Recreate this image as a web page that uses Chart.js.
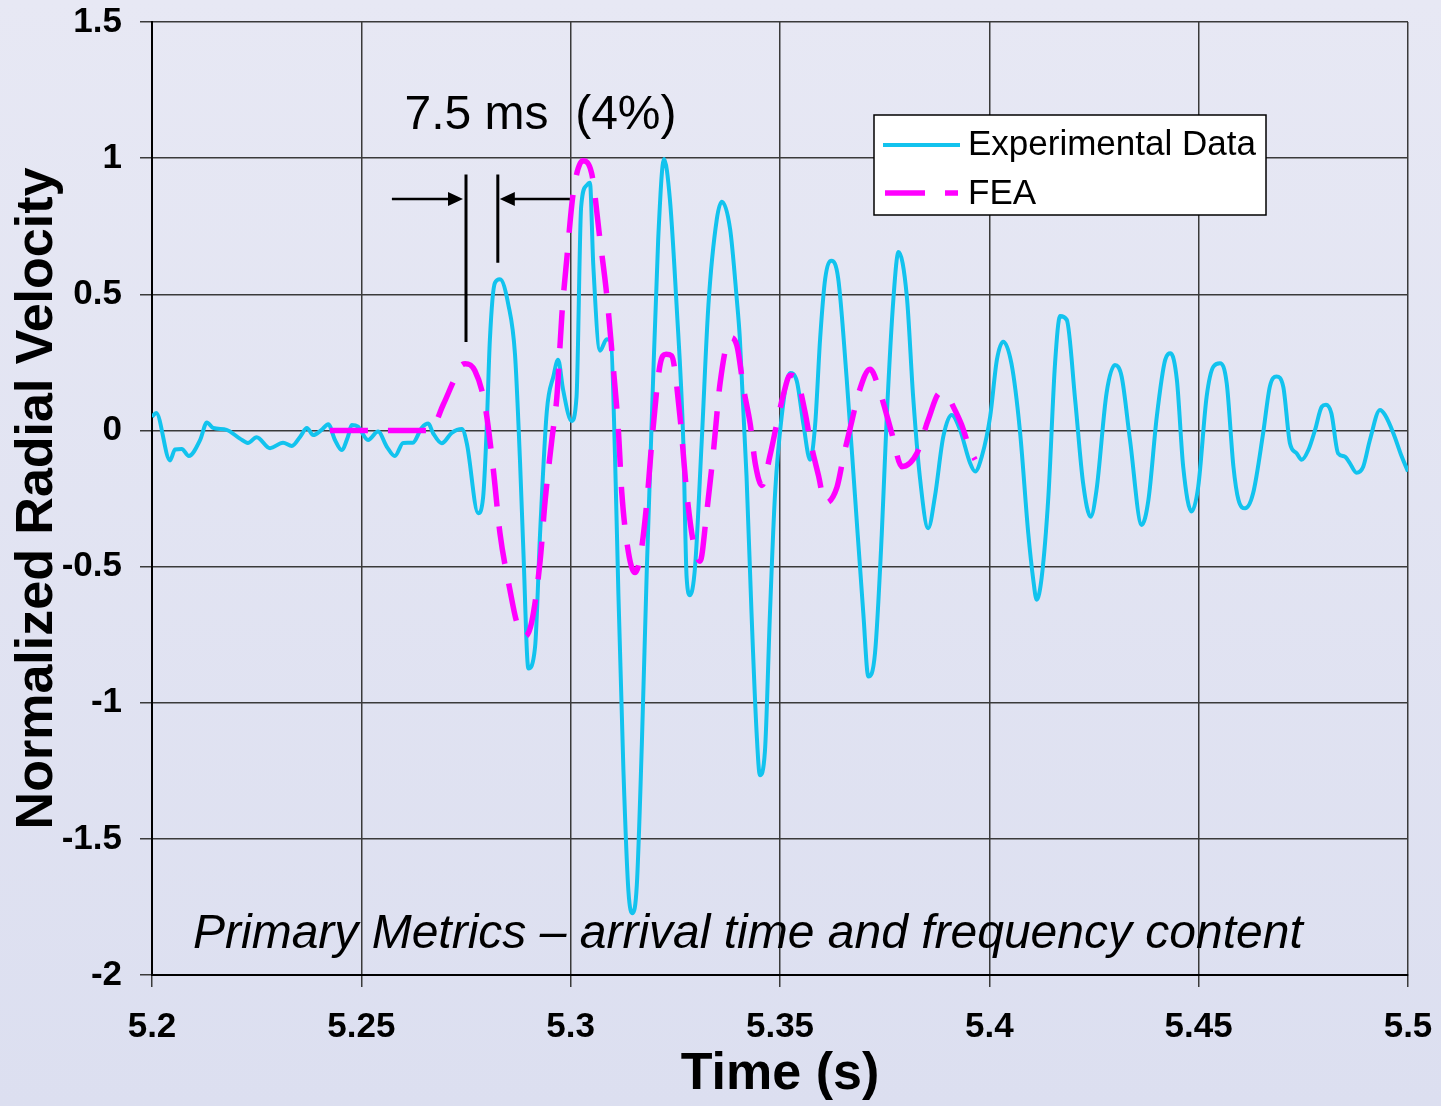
<!DOCTYPE html>
<html>
<head>
<meta charset="utf-8">
<script src="https://cdn.jsdelivr.net/npm/chart.js@4.4.1/dist/chart.umd.min.js"></script>
<style>
  html, body { margin: 0; padding: 0; }
  body {
    width: 1441px; height: 1106px; overflow: hidden;
    background: linear-gradient(#e7e8f4, #dcdff0);
  }
  canvas { display: block; }
</style>
</head>
<body>
<canvas id="grafica" width="1441" height="1106"></canvas>
<script>
// --- datos ---
const expTime = [5.2000, 5.2010, 5.2043, 5.2055, 5.2071, 5.2088, 5.2115, 5.2131, 5.2146, 5.2178,
  5.2210, 5.2229, 5.2250, 5.2282, 5.2313, 5.2334, 5.2354, 5.2370, 5.2385, 5.2405,
  5.2421, 5.2437, 5.2453, 5.2468, 5.2477, 5.2492, 5.2516, 5.2540, 5.2561, 5.2580,
  5.2600, 5.2623, 5.2644, 5.2660, 5.2671, 5.2692, 5.2716, 5.2740, 5.2752, 5.2779,
  5.2791, 5.2799, 5.2807, 5.2819, 5.2831, 5.2851, 5.2867, 5.2879, 5.2887, 5.2899,
  5.2915, 5.2927, 5.2943, 5.2959, 5.2970, 5.2982, 5.3002, 5.3014, 5.3025, 5.3038,
  5.3046, 5.3054, 5.3070, 5.3086, 5.3096, 5.3106, 5.3114, 5.3126, 5.3138, 5.3148,
  5.3158, 5.3170, 5.3182, 5.3194, 5.3209, 5.3223, 5.3237, 5.3253, 5.3269, 5.3277,
  5.3285, 5.3297, 5.3313, 5.3329, 5.3349, 5.3361, 5.3381, 5.3397, 5.3404, 5.3420,
  5.3432, 5.3444, 5.3452, 5.3464, 5.3476, 5.3488, 5.3504, 5.3524, 5.3540, 5.3556,
  5.3572, 5.3584, 5.3596, 5.3608, 5.3623, 5.3639, 5.3659, 5.3679, 5.3699, 5.3711,
  5.3727, 5.3743, 5.3755, 5.3771, 5.3783, 5.3803, 5.3818, 5.3834, 5.3854, 5.3870,
  5.3890, 5.3910, 5.3930, 5.3954, 5.3966, 5.3982, 5.4002, 5.4018, 5.4033, 5.4053,
  5.4073, 5.4093, 5.4105, 5.4113, 5.4125, 5.4141, 5.4157, 5.4169, 5.4185, 5.4205,
  5.4224, 5.4242, 5.4256, 5.4280, 5.4300, 5.4316, 5.4336, 5.4364, 5.4380, 5.4400,
  5.4420, 5.4433, 5.4448, 5.4463, 5.4483, 5.4499, 5.4519, 5.4535, 5.4551, 5.4567,
  5.4583, 5.4595, 5.4611, 5.4630, 5.4654, 5.4670, 5.4686, 5.4702, 5.4718, 5.4734,
  5.4746, 5.4762, 5.4778, 5.4794, 5.4804, 5.4817, 5.4833, 5.4849, 5.4861, 5.4877,
  5.4893, 5.4909, 5.4933, 5.4945, 5.4965, 5.4985, 5.5000];
const expVel = [0.05, 0.064, -0.11, -0.07, -0.068, -0.094, -0.035, 0.029, 0.009, 0.002,
  -0.03, -0.046, -0.025, -0.065, -0.045, -0.057, -0.023, 0.009, -0.017, 0.002,
  0.023, -0.035, -0.072, -0.023, 0.02, 0.014, -0.035, -0.004, -0.06, -0.094,
  -0.046, -0.045, 0.009, 0.025, -0.009, -0.047, -0.009, 0.005, -0.048, -0.304,
  -0.244, -0.009, 0.332, 0.542, 0.555, 0.463, 0.28, -0.113, -0.441, -0.874,
  -0.795, -0.376, 0.07, 0.2, 0.26, 0.149, 0.035, 0.123, 0.82, 0.9,
  0.91, 0.608, 0.293, 0.335, 0.33, -0.1, -0.6, -1.248, -1.693, -1.773,
  -1.67, -1.152, -0.504, 0.052, 0.70, 0.997, 0.849, 0.46, -0.04, -0.541,
  -0.605, -0.503, -0.04, 0.46, 0.775, 0.84, 0.738, 0.478, 0.341, -0.166,
  -0.672, -1.106, -1.266, -1.179, -0.672, -0.238, 0.051, 0.211, 0.182, 0.022,
  -0.108, 0.022, 0.341, 0.558, 0.623, 0.558, 0.196, -0.238, -0.672, -0.904,
  -0.817, -0.383, 0.051, 0.486, 0.655, 0.491, 0.124, -0.17, -0.359, -0.243,
  -0.023, 0.057, 0.002, -0.12, -0.151, -0.096, 0.051, 0.259, 0.326, 0.244,
  0.0, -0.378, -0.549, -0.622, -0.54, -0.243, 0.247, 0.42, 0.406, 0.112,
  -0.194, -0.317, -0.219, 0.137, 0.24, 0.198, -0.035, -0.347, -0.255, 0.051,
  0.259, 0.283, 0.185, -0.133, -0.298, -0.206, 0.124, 0.234, 0.247, 0.173,
  -0.133, -0.255, -0.286, -0.231, -0.01, 0.161, 0.198, 0.161, -0.047, -0.084,
  -0.108, -0.072, 0.002, 0.087, 0.094, 0.063, -0.084, -0.096, -0.12, -0.155,
  -0.133, -0.035, 0.075, 0.057, -0.01, -0.096, -0.151];

const feaTime = [5.2425, 5.2664, 5.2696, 5.2717, 5.2736, 5.2748, 5.2771, 5.2795, 5.2815, 5.2831,
  5.2855, 5.2871, 5.2891, 5.2907, 5.2927, 5.2939, 5.2955, 5.2967, 5.2979, 5.2991,
  5.3006, 5.3029, 5.3050, 5.3070, 5.3086, 5.3101, 5.3114, 5.3122, 5.3138, 5.3154,
  5.3166, 5.3182, 5.3194, 5.3213, 5.3228, 5.3241, 5.3261, 5.3277, 5.3293, 5.3309,
  5.3325, 5.3341, 5.3357, 5.3381, 5.3397, 5.3413, 5.3429, 5.3441, 5.3457, 5.3476,
  5.3492, 5.3508, 5.3524, 5.3540, 5.3560, 5.3572, 5.3592, 5.3608, 5.3636, 5.3652,
  5.3672, 5.3688, 5.3715, 5.3735, 5.3747, 5.3767, 5.3791, 5.3827, 5.3854, 5.3882,
  5.3898, 5.3914, 5.3934, 5.3954, 5.3966];
const feaVel = [0, 0, 0.096, 0.17, 0.234, 0.245, 0.22, 0.096, -0.14, -0.376,
  -0.586, -0.703, -0.756, -0.703, -0.48, -0.258, -0.035, 0.122, 0.424, 0.634,
  0.87, 0.99, 0.945, 0.70, 0.50, 0.245, 0.0, -0.226, -0.448, -0.522,
  -0.467, -0.263, -0.04, 0.237, 0.28, 0.274, 0.052, -0.226, -0.411, -0.48,
  -0.30, -0.077, 0.175, 0.341, 0.312, 0.153, 0.022, -0.122, -0.202, -0.093,
  0.022, 0.131, 0.203, 0.189, 0.066, -0.036, -0.166, -0.267, -0.209, -0.093,
  0.037, 0.138, 0.225, 0.161, 0.1, -0.01, -0.133, -0.084, 0.039, 0.137,
  0.131, 0.087, 0.02, -0.072, -0.108];

const xTicks = [5.2, 5.25, 5.3, 5.35, 5.4, 5.45, 5.5];
const xTickLabels = ['5.2', '5.25', '5.3', '5.35', '5.4', '5.45', '5.5'];
const yTicks = [-2, -1.5, -1, -0.5, 0, 0.5, 1, 1.5];
const yTickLabels = ['-2', '-1.5', '-1', '-0.5', '0', '0.5', '1', '1.5'];

// marcas de la cota de 7.5 ms (en unidades de datos)
const cotaIzq = 5.2750;
const cotaDer = 5.2826;

const FUENTE = '"Liberation Sans", Arial, sans-serif';
const COLOR_EXP = '#12c3ee';
const COLOR_FEA = '#ff00ff';

const aPuntos = (xs, ys) => xs.map((x, i) => ({ x: x, y: ys[i] }));

// --- anotaciones, leyenda y flechas ---
const anotaciones = {
  id: 'anotaciones',
  afterDatasetsDraw(chart) {
    const ctx = chart.ctx;
    const sx = chart.scales.x, sy = chart.scales.y;
    const px = v => sx.getPixelForValue(v);
    const py = v => sy.getPixelForValue(v);
    ctx.save();

    // cota con flechas
    ctx.strokeStyle = '#000';
    ctx.fillStyle = '#000';
    ctx.lineWidth = 3;
    const yFlecha = py(0.85);
    const xa = px(cotaIzq), xb = px(cotaDer);
    ctx.beginPath();
    ctx.moveTo(xa, py(0.94)); ctx.lineTo(xa, py(0.325));
    ctx.moveTo(xb, py(0.94)); ctx.lineTo(xb, py(0.616));
    ctx.stroke();
    ctx.lineWidth = 2.5;
    ctx.beginPath();
    ctx.moveTo(px(5.2573), yFlecha); ctx.lineTo(xa - 14, yFlecha);
    ctx.moveTo(px(5.2998), yFlecha); ctx.lineTo(xb + 14, yFlecha);
    ctx.stroke();
    ctx.beginPath();
    ctx.moveTo(xa - 3, yFlecha); ctx.lineTo(xa - 18, yFlecha - 7); ctx.lineTo(xa - 18, yFlecha + 7); ctx.closePath();
    ctx.moveTo(xb + 2, yFlecha); ctx.lineTo(xb + 17, yFlecha - 7); ctx.lineTo(xb + 17, yFlecha + 7); ctx.closePath();
    ctx.fill();

    // textos
    ctx.textBaseline = 'alphabetic';
    ctx.textAlign = 'left';
    ctx.font = '48px ' + FUENTE;
    ctx.fillText('7.5 ms  (4%)', px(5.2603), py(1.107));
    ctx.font = 'italic 48px ' + FUENTE;
    ctx.fillText('Primary Metrics \u2013 arrival time and frequency content', px(5.2098), py(-1.9));

    // leyenda
    const lx = 874, ly = 115, lw = 392, lh = 100;
    ctx.fillStyle = '#fff';
    ctx.fillRect(lx, ly, lw, lh);
    ctx.strokeStyle = '#000';
    ctx.lineWidth = 1.5;
    ctx.strokeRect(lx, ly, lw, lh);
    ctx.lineWidth = 4;
    ctx.strokeStyle = COLOR_EXP;
    ctx.beginPath(); ctx.moveTo(lx + 9, ly + 30); ctx.lineTo(lx + 86, ly + 30); ctx.stroke();
    ctx.lineWidth = 5.5;
    ctx.strokeStyle = COLOR_FEA;
    ctx.setLineDash([40, 20]);
    ctx.beginPath(); ctx.moveTo(lx + 11, ly + 78); ctx.lineTo(lx + 84, ly + 78); ctx.stroke();
    ctx.setLineDash([]);
    ctx.fillStyle = '#000';
    ctx.font = '35px ' + FUENTE;
    ctx.textBaseline = 'middle';
    ctx.fillText('Experimental Data', lx + 94, ly + 30);
    ctx.fillText('FEA', lx + 94, ly + 79);
    ctx.restore();
  }
};

new Chart(document.getElementById('grafica'), {
  type: 'line',
  data: {
    datasets: [{
      label: 'Experimental Data',
      data: aPuntos(expTime, expVel),
      borderColor: COLOR_EXP,
      borderWidth: 4,
      pointRadius: 0,
      cubicInterpolationMode: 'monotone',
      order: 2
    }, {
      label: 'FEA',
      data: aPuntos(feaTime, feaVel),
      borderColor: COLOR_FEA,
      borderWidth: 5.5,
      borderDash: [38, 20],
      pointRadius: 0,
      cubicInterpolationMode: 'monotone',
      order: 1
    }]
  },
  options: {
    responsive: false,
    animation: false,
    events: [],
    layout: { padding: { top: 22, right: 33, left: 0, bottom: 0 } },
    plugins: { legend: { display: false }, tooltip: { enabled: false } },
    scales: {
      x: {
        type: 'linear',
        min: 5.2, max: 5.5,
        afterBuildTicks: (s) => { s.ticks = xTicks.map(v => ({ value: v })); },
        afterFit: (s) => { s.height = 131; s.paddingLeft = 0; s.paddingRight = 0; },
        ticks: {
          callback: (v) => xTickLabels[xTicks.indexOf(v)],
          font: { family: FUENTE, size: 35, weight: 'bold' },
          color: '#000', padding: 19, maxRotation: 0, autoSkip: false
        },
        grid: { color: '#3a3a3a', lineWidth: 1.5, tickLength: 12 },
        border: { color: '#000', width: 2 },
        title: {
          display: true, text: 'Time (s)', color: '#000',
          font: { family: FUENTE, size: 52, weight: 'bold' },
          padding: { top: 0, bottom: 0 }
        }
      },
      y: {
        min: -2, max: 1.5,
        afterBuildTicks: (s) => { s.ticks = yTicks.map(v => ({ value: v })); },
        afterFit: (s) => { s.width = 152; s.paddingTop = 0; s.paddingBottom = 0; },
        ticks: {
          callback: (v) => yTickLabels[yTicks.indexOf(v)],
          font: { family: FUENTE, size: 35, weight: 'bold' },
          color: '#000', padding: 18
        },
        grid: { color: '#3a3a3a', lineWidth: 1.5, tickLength: 12 },
        border: { color: '#000', width: 2 },
        title: {
          display: true, text: 'Normalized Radial Velocity', color: '#000',
          font: { family: FUENTE, size: 52, weight: 'bold' },
          padding: { top: 6, bottom: 0 }
        }
      }
    }
  },
  plugins: [anotaciones]
});
</script>
</body>
</html>
